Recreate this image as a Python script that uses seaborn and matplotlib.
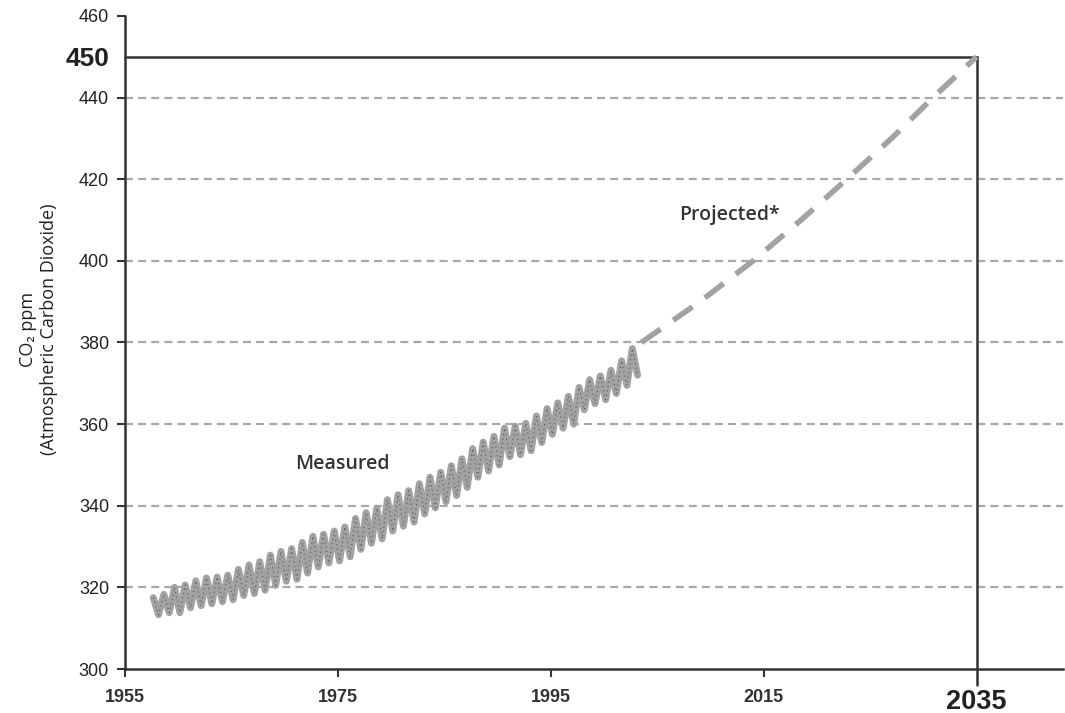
import numpy as np
import pandas as pd
import seaborn as sns
import matplotlib.pyplot as plt

# yearly seasonal high (spring) and low (autumn)
years = list(range(1958, 2004))
co2_high = [317.5, 318.3, 320.0, 320.6, 321.6, 322.3, 322.5, 323.0, 324.4, 325.5,
            326.3, 327.9, 328.8, 329.5, 331.0, 332.5, 333.0, 333.8, 334.8, 336.9,
            338.3, 339.4, 341.5, 342.7, 343.7, 345.4, 347.0, 348.2, 349.8, 351.5,
            354.0, 355.6, 357.0, 359.0, 359.5, 360.2, 362.0, 363.8, 365.2, 366.8,
            369.0, 370.9, 371.8, 373.2, 375.5, 378.5]
co2_low = [313.3, 313.8, 313.8, 315.0, 315.5, 316.0, 316.5, 317.0, 318.0, 318.5,
           319.3, 320.5, 321.5, 322.0, 323.5, 325.0, 326.0, 326.5, 327.5, 329.3,
           330.8, 331.9, 333.8, 335.0, 336.0, 338.0, 339.5, 341.0, 342.5, 344.5,
           347.0, 348.5, 350.0, 352.0, 352.5, 353.5, 355.5, 357.5, 359.0, 360.0,
           363.5, 365.0, 366.0, 367.5, 369.5, 372.0]
high_offset = -0.35   # fraction of year where the high sits
low_offset = 0.15

# projection
proj_years = [2003.5, 2009.0, 2014.0, 2018.5, 2022.8, 2027.0, 2030.9, 2035.0]
proj_co2 = [380.0, 390.0, 400.0, 410.0, 420.0, 430.0, 440.0, 450.0]

yticks = [300, 320, 340, 360, 380, 400, 420, 440, 460]
xticks = [1955, 1975, 1995, 2015]

t, v = [], []
for y, hi, lo in zip(years, co2_high, co2_low):
    t += [y + high_offset, y + low_offset]
    v += [hi, lo]
measured = pd.DataFrame({'year': t, 'co2': v})
projected = pd.DataFrame({'year': proj_years, 'co2': proj_co2})

sns.set_style('white')
plt.rcParams['font.family'] = ['Liberation Sans', 'DejaVu Sans']

fig = plt.figure(figsize=(10.65, 7.13), dpi=100)
ax = fig.add_axes([0.1174, 0.0617, 0.8806, 0.9159])

grey = '#a2a2a2'
dark = '#333333'

for g in [320, 340, 360, 380, 400, 420, 440]:
    ax.axhline(g, color='#a8a8a8', lw=1.6, ls=(0, (3.6, 2.3)), zorder=1)

ax.plot([1955, 2035], [450, 450], color=dark, lw=1.8, zorder=2, clip_on=False)
ax.plot([2035, 2035], [450, 296.0], color=dark, lw=1.8, zorder=2, clip_on=False)

sns.lineplot(data=measured, x='year', y='co2', color=grey, lw=5, sort=False,
             ax=ax, zorder=3)
sns.lineplot(data=measured, x='year', y='co2', color='#555555', lw=0.8,
             ls=(0, (1, 3)), sort=False, ax=ax, zorder=4)
sns.lineplot(data=projected, x='year', y='co2', color=grey, lw=4.0,
             ls=(0, (4.2, 2.8)), ax=ax, zorder=3)

ax.set_xlim(1955, 2043.1)
ax.set_ylim(300, 460)
ax.set_yticks(yticks + [450])
ax.set_yticklabels([str(v) for v in yticks] + ['450'])
ax.set_xticks(xticks + [2035])
ax.set_xticklabels([str(v) for v in xticks] + ['2035'])
for lab in ax.get_yticklabels():
    lab.set_fontsize(13)
    lab.set_color('#222222')
    if lab.get_text() == '450':
        lab.set_fontsize(19)
        lab.set_fontweight('bold')
for lab in ax.get_xticklabels():
    lab.set_fontsize(13)
    lab.set_fontweight('bold')
    lab.set_color('#333333')
    if lab.get_text() == '2035':
        lab.set_fontsize(19.5)
        lab.set_color('#222222')

ax.tick_params(axis='both', direction='out', length=5.5, width=1.5, color=dark,
               left=True, bottom=True)
ax.tick_params(axis='y', pad=6)
ax.tick_params(axis='x', pad=9)
ax.yaxis.get_major_ticks()[-1].tick1line.set_visible(False)
ax.xaxis.get_major_ticks()[-1].tick1line.set_visible(False)

for s in ['top', 'right']:
    ax.spines[s].set_visible(False)
for s in ['left', 'bottom']:
    ax.spines[s].set_color(dark)
    ax.spines[s].set_linewidth(1.8)

ax.set_xlabel('')
ax.set_ylabel('CO\u2082 ppm\n(Atmospheric Carbon Dioxide)', fontsize=13,
              family=['Open Sans', 'DejaVu Sans'], color='#222222')
ax.yaxis.set_label_coords(-0.072, 0.52)

ax.text(1975.4, 350.3, 'Measured', fontsize=14, fontweight='semibold',
        family=['Open Sans', 'DejaVu Sans'], color='#333333', ha='center', va='center')
ax.text(2011.8, 411.3, 'Projected*', fontsize=14, fontweight='semibold',
        family=['Open Sans', 'DejaVu Sans'], color='#333333', ha='center', va='center')

fig.savefig('out.png', dpi=100)
